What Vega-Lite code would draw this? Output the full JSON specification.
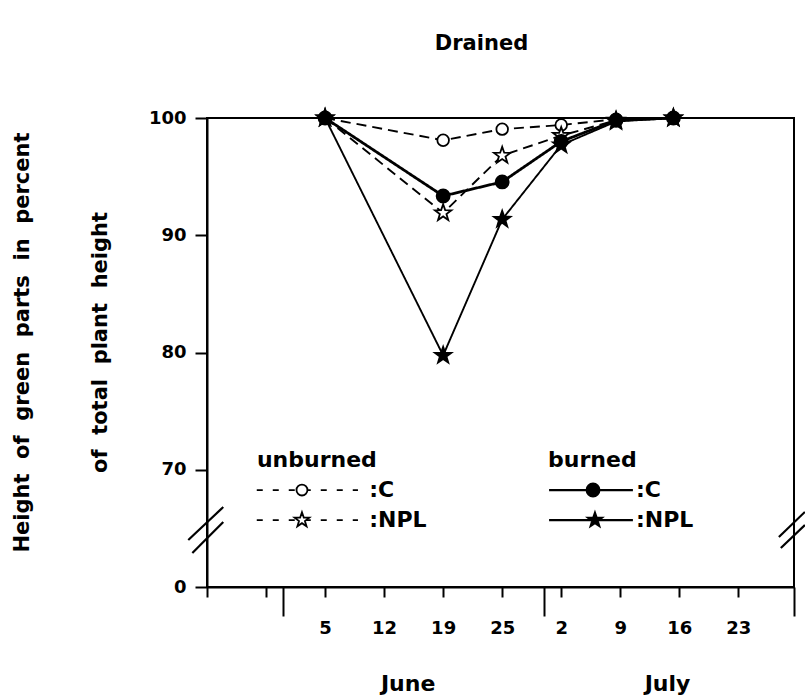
{
  "$schema": "https://vega.github.io/schema/vega-lite/v6.json",
  "width": 587,
  "height": 469,
  "autosize": {"type": "none"},
  "padding": {"left": 207, "top": 118, "right": 11, "bottom": 112},
  "background": "white",
  "title": {"text": "Drained", "font": "DejaVu Sans", "fontSize": 21, "fontWeight": "bold", "color": "black", "anchor": "middle", "dx": -19, "offset": 41, "baseline": "middle"},
  "datasets": {
    "obs": [
      {"series": "unburned C", "day": 5, "value": 100},
      {"series": "unburned C", "day": 19, "value": 98.1},
      {"series": "unburned C", "day": 26, "value": 99.05},
      {"series": "unburned C", "day": 33, "value": 99.4},
      {"series": "unburned C", "day": 39.5, "value": 99.9},
      {"series": "unburned C", "day": 46.3, "value": 100},
      {"series": "unburned NPL", "day": 5, "value": 100},
      {"series": "unburned NPL", "day": 19, "value": 91.9},
      {"series": "unburned NPL", "day": 26, "value": 96.8},
      {"series": "unburned NPL", "day": 33, "value": 98.5},
      {"series": "unburned NPL", "day": 39.5, "value": 99.8},
      {"series": "unburned NPL", "day": 46.3, "value": 100},
      {"series": "burned C", "day": 5, "value": 100},
      {"series": "burned C", "day": 19, "value": 93.35},
      {"series": "burned C", "day": 26, "value": 94.55},
      {"series": "burned C", "day": 33, "value": 98.0},
      {"series": "burned C", "day": 39.5, "value": 99.8},
      {"series": "burned C", "day": 46.3, "value": 100},
      {"series": "burned NPL", "day": 5, "value": 100},
      {"series": "burned NPL", "day": 19, "value": 79.75},
      {"series": "burned NPL", "day": 26, "value": 91.35},
      {"series": "burned NPL", "day": 33, "value": 97.7},
      {"series": "burned NPL", "day": 39.5, "value": 99.7},
      {"series": "burned NPL", "day": 46.3, "value": 100}
    ],
    "legend_lines": [
      {"series": "unburned C", "style": "dash", "day": -3.1, "day2": 8.9, "value": 68.27},
      {"series": "unburned NPL", "style": "dash", "day": -3.1, "day2": 8.9, "value": 65.71},
      {"series": "burned C", "style": "solid", "day": 31.56, "day2": 41.5, "value": 68.27},
      {"series": "burned NPL", "style": "solid", "day": 31.56, "day2": 41.5, "value": 65.71}
    ],
    "legend_pts": [
      {"series": "unburned C", "day": 2.26, "value": 68.27},
      {"series": "unburned NPL", "day": 2.26, "value": 65.71},
      {"series": "burned C", "day": 36.77, "value": 68.27},
      {"series": "burned NPL", "day": 37.0, "value": 65.71}
    ],
    "legend_text": [
      {"label": "unburned", "day": -3.08, "value": 70.85},
      {"label": "burned", "day": 31.44, "value": 70.85},
      {"label": ":C", "day": 10.23, "value": 68.27},
      {"label": ":NPL", "day": 10.23, "value": 65.71},
      {"label": ":C", "day": 41.87, "value": 68.27},
      {"label": ":NPL", "day": 41.87, "value": 65.71}
    ],
    "breaks": [
      {"day": -11.22, "value": 64.01, "day2": -7.07, "value2": 66.82},
      {"day": -10.74, "value": 62.9, "day2": -7.07, "value2": 65.54},
      {"day": 58.81, "value": 64.26, "day2": 61.89, "value2": 66.4},
      {"day": 59.04, "value": 63.33, "day2": 61.89, "value2": 65.29}
    ],
    "months": [
      {"label": "June", "day": 14.85, "value": 51.7},
      {"label": "July", "day": 45.6, "value": 51.7}
    ]
  },
  "layer": [
    {
      "data": {"name": "obs"},
      "mark": {"type": "line", "color": "black"},
      "encoding": {
        "x": {
          "field": "day", "type": "quantitative",
          "scale": {"domain": [-9, 60.6], "nice": false, "zero": false},
          "axis": {
            "title": null,
            "values": [-9, -2, 0, 5, 12, 19, 26, 31, 33, 40, 47, 54, 60.6],
            "labelExpr": "datum.value == 5 ? '5' : datum.value == 12 ? '12' : datum.value == 19 ? '19' : datum.value == 26 ? '25' : datum.value == 33 ? '2' : datum.value == 40 ? '9' : datum.value == 47 ? '16' : datum.value == 54 ? '23' : ''",
            "tickSize": {"condition": {"test": "datum.value == 0 || datum.value == 31 || datum.value > 60", "value": 29}, "value": 10},
            "labelPadding": 22,
            "labelFontSize": 18,
            "labelFlush": false,
            "labelOverlap": false
          }
        },
        "y": {
          "field": "value", "type": "quantitative",
          "scale": {"domain": [60, 100], "nice": false, "zero": false},
          "axis": {
            "title": ["Height\u00a0 of\u00a0 green\u00a0 parts\u00a0 in\u00a0 percent", "of\u00a0 total\u00a0 plant\u00a0 height"],
            "titleAngle": 270,
            "titleAlign": "center",
            "titleBaseline": "middle",
            "titleX": -185,
            "titleY": 224,
            "titleLineHeight": 78,
            "titleFontSize": 21,
            "titleFontWeight": "bold",
            "values": [60, 70, 80, 90, 100],
            "labelExpr": "datum.value == 60 ? '0' : datum.value",
            "tickSize": 12,
            "labelPadding": 9,
            "labelFontSize": 18,
            "labelFlush": false
          }
        },
        "detail": {"field": "series"},
        "strokeDash": {
          "field": "series", "type": "nominal",
          "scale": {"domain": ["unburned C", "unburned NPL", "burned C", "burned NPL"], "range": [[10, 6], [10, 6], [1, 0], [1, 0]]},
          "legend": null
        },
        "strokeWidth": {"condition": {"test": "datum.series == 'burned C'", "value": 2.8}, "value": 1.9}
      }
    },
    {
      "data": {"name": "obs"},
      "mark": {"type": "point", "filled": true, "stroke": "black", "strokeWidth": 1.8, "opacity": 1},
      "encoding": {
        "x": {"field": "day", "type": "quantitative"},
        "y": {"field": "value", "type": "quantitative"},
        "shape": {
          "field": "series", "type": "nominal",
          "scale": {"domain": ["unburned C", "unburned NPL", "burned C", "burned NPL"], "range": ["circle", "M0,-1L0.235,-0.324L0.951,-0.309L0.38,0.124L0.588,0.809L0,0.4L-0.588,0.809L-0.38,0.124L-0.951,-0.309L-0.235,-0.324Z", "circle", "M0,-1L0.235,-0.324L0.951,-0.309L0.38,0.124L0.588,0.809L0,0.4L-0.588,0.809L-0.38,0.124L-0.951,-0.309L-0.235,-0.324Z"]},
          "legend": null
        },
        "fill": {
          "field": "series", "type": "nominal",
          "scale": {"domain": ["unburned C", "unburned NPL", "burned C", "burned NPL"], "range": ["white", "white", "black", "black"]},
          "legend": null
        },
        "size": {"condition": [{"test": "indexof(datum.series, 'NPL') >= 0", "value": 300}, {"test": "datum.series == 'burned C'", "value": 170}], "value": 135}
      }
    },
    {
      "data": {"name": "legend_lines"},
      "transform": [{"filter": "datum.style == 'dash'"}],
      "mark": {"type": "rule", "color": "black", "strokeWidth": 1.8, "strokeDash": [6, 10]},
      "encoding": {
        "x": {"field": "day", "type": "quantitative"},
        "x2": {"field": "day2"},
        "y": {"field": "value", "type": "quantitative"}
      }
    },
    {
      "data": {"name": "legend_lines"},
      "transform": [{"filter": "datum.style == 'solid'"}],
      "mark": {"type": "rule", "color": "black", "strokeWidth": 2.2},
      "encoding": {
        "x": {"field": "day", "type": "quantitative"},
        "x2": {"field": "day2"},
        "y": {"field": "value", "type": "quantitative"}
      }
    },
    {
      "data": {"name": "legend_pts"},
      "mark": {"type": "point", "filled": true, "stroke": "black", "strokeWidth": 1.8, "opacity": 1},
      "encoding": {
        "x": {"field": "day", "type": "quantitative"},
        "y": {"field": "value", "type": "quantitative"},
        "shape": {"field": "series", "type": "nominal", "legend": null},
        "fill": {"field": "series", "type": "nominal", "legend": null},
        "size": {"condition": [{"test": "indexof(datum.series, 'NPL') >= 0", "value": 240}, {"test": "datum.series == 'burned C'", "value": 170}], "value": 120}
      }
    },
    {
      "data": {"name": "legend_text"},
      "mark": {"type": "text", "align": "left", "baseline": "middle", "font": "DejaVu Sans", "fontSize": 22, "fontWeight": "bold", "color": "black"},
      "encoding": {
        "x": {"field": "day", "type": "quantitative"},
        "y": {"field": "value", "type": "quantitative"},
        "text": {"field": "label"}
      }
    },
    {
      "data": {"name": "breaks"},
      "mark": {"type": "rule", "color": "black", "strokeWidth": 2.2},
      "encoding": {
        "x": {"field": "day", "type": "quantitative"},
        "y": {"field": "value", "type": "quantitative"},
        "x2": {"field": "day2"},
        "y2": {"field": "value2"}
      }
    },
    {
      "data": {"name": "months"},
      "mark": {"type": "text", "align": "center", "baseline": "middle", "font": "DejaVu Sans", "fontSize": 22, "fontWeight": "bold", "color": "black"},
      "encoding": {
        "x": {"field": "day", "type": "quantitative"},
        "y": {"field": "value", "type": "quantitative"},
        "text": {"field": "label"}
      }
    }
  ],
  "config": {
    "view": {"stroke": "black", "strokeWidth": 2},
    "font": "DejaVu Sans",
    "axis": {
      "grid": false,
      "domainColor": "black",
      "domainWidth": 2,
      "tickColor": "black",
      "tickWidth": 2,
      "labelColor": "black",
      "titleColor": "black",
      "labelFont": "DejaVu Sans",
      "labelFontWeight": "bold",
      "titleFont": "DejaVu Sans"
    }
  }
}
